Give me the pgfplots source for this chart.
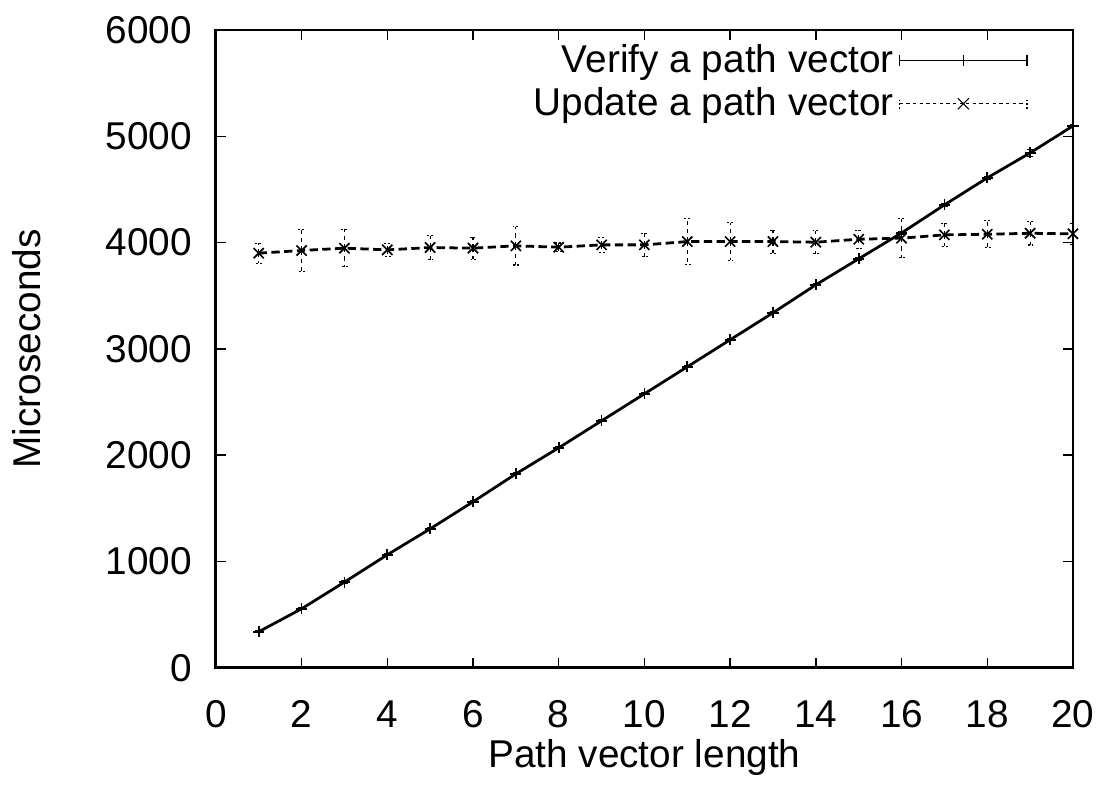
\documentclass[border=0pt]{standalone}
\usepackage{pgfplots}
\pgfplotsset{compat=1.18}
\usepackage{pgfplotstable}
\usepackage{fontspec}
\setmainfont{Liberation Sans}
\pgfplotstableread{
x y e
1 339 10
2 555 10
3 806 10
4 1063 10
5 1307 10
6 1561 10
7 1824 10
8 2069 10
9 2323 10
10 2577 10
11 2831 10
12 3085 10
13 3339 10
14 3602 10
15 3847 12
16 4090 12
17 4354 12
18 4608 12
19 4843 30
20 5097 12
}\verify
\pgfplotstableread{
x y e
1 3900 94
2 3925 196
3 3947 176
4 3931 63
5 3953 113
6 3947 103
7 3969 180
8 3956 40
9 3978 72
10 3978 110
11 4009 216
12 4009 176
13 4009 108
14 4003 110
15 4031 86
16 4041 185
17 4072 107
18 4078 125
19 4087 110
20 4082 100
}\update
\begin{document}
\begin{tikzpicture}
\begin{axis}[
  scale only axis,
  width=309.7pt, height=230.5pt,
  xmin=0, xmax=20, ymin=0, ymax=6000,
  xtick={0,2,...,20}, ytick={0,1000,...,6000},
  tick align=inside,
  major tick length=3.6pt,
  tick style={line width=0.5pt, black},
  axis line style={line width=1pt},
  font=\fontsize{14pt}{17pt}\selectfont,
  /pgf/number format/assume math mode=true,
  /pgf/number format/1000 sep={},
  scaled y ticks=false,
  xticklabel style={anchor=base, inner sep=0pt, yshift=-21.5pt},
  yticklabel style={anchor=east, inner sep=0pt, xshift=-8.4pt},
  xlabel={Path vector length}, ylabel={Microseconds},
  every axis x label/.style={at={(axis description cs:0.5,0)}, anchor=center, yshift=-32.5pt},
  every axis y label/.style={at={(axis description cs:0,0.5)}, xshift=-68.5pt, anchor=center, rotate=90},
  legend plot pos=right,
  legend cell align=right,
  legend style={draw=none, fill=none, at={(axis description cs:1,1)}, anchor=north east,
    xshift=-16.2pt, yshift=-3pt, inner sep=0pt, row sep=0pt, nodes={inner sep=2pt},
    font=\fontsize{14pt}{17pt}\selectfont},
]
\addplot[black, line width=1pt, mark=+, mark size=2pt, mark options={solid, line width=0.6pt}, forget plot,
  error bars/.cd, y dir=both, y explicit, error bar style={line width=0.4pt, solid},
  error mark options={rotate=90, mark size=1.2pt, line width=0.4pt}]
  table[x=x, y=y, y error=e]{\verify};
\addlegendimage{black,
  legend image code/.code={
    \draw[black, line width=0.4pt] (0pt,0pt) -- (46pt,0pt);
    \draw[black, line width=0.4pt] (0pt,-2pt) -- (0pt,2pt);
    \draw[black, line width=0.4pt] (46pt,-2pt) -- (46pt,2pt);
    \draw[black, line width=0.4pt] (23pt,-2pt) -- (23pt,2pt);
  }}
\addlegendentry{Verify a path vector}
\addplot[black, line width=1pt, dash pattern=on 3pt off 1.6pt, mark=x, mark size=2.6pt, mark options={solid, line width=0.6pt}, forget plot,
  error bars/.cd, y dir=both, y explicit, error bar style={line width=0.4pt, dash pattern=on 1.5pt off 1.5pt},
  error mark options={rotate=90, mark size=1.2pt, line width=0.4pt, dash pattern=on 0.7pt off 0.7pt}]
  table[x=x, y=y, y error=e]{\update};
\addlegendimage{black,
  legend image code/.code={
    \draw[black, line width=0.4pt, dash pattern=on 1.2pt off 1.2pt] (0pt,0pt) -- (46pt,0pt);
    \draw[black, line width=0.4pt, dash pattern=on 0.7pt off 0.7pt] (0pt,-2pt) -- (0pt,2pt);
    \draw[black, line width=0.4pt, dash pattern=on 0.7pt off 0.7pt] (46pt,-2pt) -- (46pt,2pt);
    \draw[black, line width=0.4pt] (21pt,-2pt) -- (25pt,2pt) (21pt,2pt) -- (25pt,-2pt);
  }}
\addlegendentry{Update a path vector}
\end{axis}
\pgfresetboundingbox
\path[use as bounding box] ([xshift=-78pt,yshift=-44.4pt]current axis.south west) rectangle ([xshift=12.3pt,yshift=10.8pt]current axis.north east);
\end{tikzpicture}
\end{document}
